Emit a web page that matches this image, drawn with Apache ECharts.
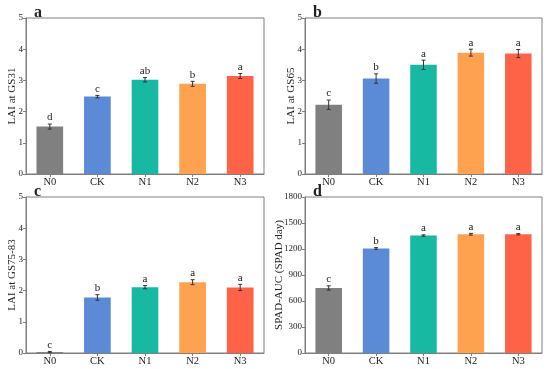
<!DOCTYPE html>
<html><head><meta charset="utf-8">
<script src="https://cdn.jsdelivr.net/npm/echarts@6/dist/echarts.min.js"></script>
<style>html,body{margin:0;padding:0;background:#fff}#c{width:550px;height:369px}</style>
</head><body><div id="c"></div>
<script>
const categories = ['N0', 'CK', 'N1', 'N2', 'N3'];
const barColors = ['#808080', '#5B8BD6', '#17B9A3', '#FFA24F', '#FF6347'];

const laiGS31 = [1.52, 2.48, 3.02, 2.89, 3.14];
const errGS31 = [0.08, 0.04, 0.07, 0.08, 0.08];
const letGS31 = ['d', 'c', 'ab', 'b', 'a'];

const laiGS65 = [2.22, 3.06, 3.50, 3.89, 3.86];
const errGS65 = [0.15, 0.15, 0.15, 0.11, 0.13];
const letGS65 = ['c', 'b', 'a', 'a', 'a'];

const laiGS7583 = [0.03, 1.78, 2.11, 2.27, 2.10];
const errGS7583 = [0.02, 0.09, 0.05, 0.08, 0.10];
const letGS7583 = ['c', 'b', 'a', 'a', 'a'];

const spadAUC = [750, 1206, 1355, 1370, 1370];
const errSPAD = [25, 10, 8, 10, 8];
const letSPAD = ['c', 'b', 'a', 'a', 'a'];

const laiTicks = [0, 1, 2, 3, 4, 5];
const spadTicks = [0, 300, 600, 900, 1200, 1500, 1800];

const panels = [
  {tag: 'a', name: 'LAI at GS31', vals: laiGS31, errs: errGS31, lets: letGS31, ticks: laiTicks, grid: {left: 26, top: 18, width: 238, height: 156}},
  {tag: 'b', name: 'LAI at GS65', vals: laiGS65, errs: errGS65, lets: letGS65, ticks: laiTicks, grid: {left: 305, top: 18, width: 237, height: 156}},
  {tag: 'c', name: 'LAI at GS75-83', vals: laiGS7583, errs: errGS7583, lets: letGS7583, ticks: laiTicks, grid: {left: 26, top: 197, width: 238, height: 156}},
  {tag: 'd', name: 'SPAD-AUC (SPAD day)', vals: spadAUC, errs: errSPAD, lets: letSPAD, ticks: spadTicks, grid: {left: 305, top: 197, width: 237, height: 156}}
];

const FONT = '"Liberation Serif", "Times New Roman", serif';
const AX = '#7f7f7f';

const option = {
  animation: false,
  backgroundColor: '#fff',
  grid: [], xAxis: [], yAxis: [], series: [], title: []
};

panels.forEach((p, i) => {
  option.grid.push(Object.assign({show: true, borderColor: AX, borderWidth: 1, backgroundColor: 'transparent'}, p.grid));
  option.title.push({
    text: p.tag, left: p.grid.left + 3, top: p.grid.top - 18,
    textStyle: {fontFamily: FONT, fontSize: 16, fontWeight: 'bold', color: '#222'}
  });
  option.xAxis.push({
    type: 'category', gridIndex: i, data: categories,
    axisLine: {lineStyle: {color: AX}},
    axisTick: {show: true, alignWithLabel: true, length: 3, lineStyle: {color: AX}},
    axisLabel: {fontFamily: FONT, fontSize: 10.5, color: '#222', margin: 3}
  });
  const mx = p.ticks[p.ticks.length - 1];
  option.yAxis.push({
    type: 'value', gridIndex: i, min: 0, max: mx, interval: p.ticks[1] - p.ticks[0],
    name: p.name, nameLocation: 'middle', nameGap: p.tag === 'd' ? 20 : 8,
    nameMoveOverlap: false,
    nameTextStyle: {fontFamily: FONT, fontSize: 11, color: '#222'},
    axisLine: {show: true, lineStyle: {color: AX}},
    axisTick: {show: true, length: 3, lineStyle: {color: AX}},
    splitLine: {show: false},
    axisLabel: {fontFamily: FONT, fontSize: 9, color: '#222', margin: 3, formatter: v => String(v)}
  });
  option.series.push({
    type: 'bar', xAxisIndex: i, yAxisIndex: i, barWidth: '56%',
    data: p.vals.map((v, k) => ({value: v, itemStyle: {color: barColors[k]}}))
  });
  option.series.push({
    type: 'custom', xAxisIndex: i, yAxisIndex: i, z: 10,
    data: p.vals.map((v, k) => [k, v, p.errs[k]]),
    renderItem: function (params, api) {
      const k = api.value(0), v = api.value(1), e = api.value(2);
      const hi = api.coord([k, v + e]);
      const lo = api.coord([k, v - e]);
      const cap = 2;
      const st = {stroke: '#333', lineWidth: 1};
      return {
        type: 'group',
        children: [
          {type: 'line', shape: {x1: hi[0], y1: hi[1], x2: lo[0], y2: lo[1]}, style: st},
          {type: 'line', shape: {x1: hi[0] - cap, y1: hi[1], x2: hi[0] + cap, y2: hi[1]}, style: st},
          {type: 'line', shape: {x1: lo[0] - cap, y1: lo[1], x2: lo[0] + cap, y2: lo[1]}, style: st},
          {type: 'text', style: {text: p.lets[k], x: hi[0], y: hi[1] - 1, textAlign: 'center', textVerticalAlign: 'bottom',
            font: '11px ' + FONT, fill: '#222'}}
        ]
      };
    }
  });
});

const chart = echarts.init(document.getElementById('c'), null, {renderer: 'canvas'});
chart.setOption(option);
</script>
</body></html>
